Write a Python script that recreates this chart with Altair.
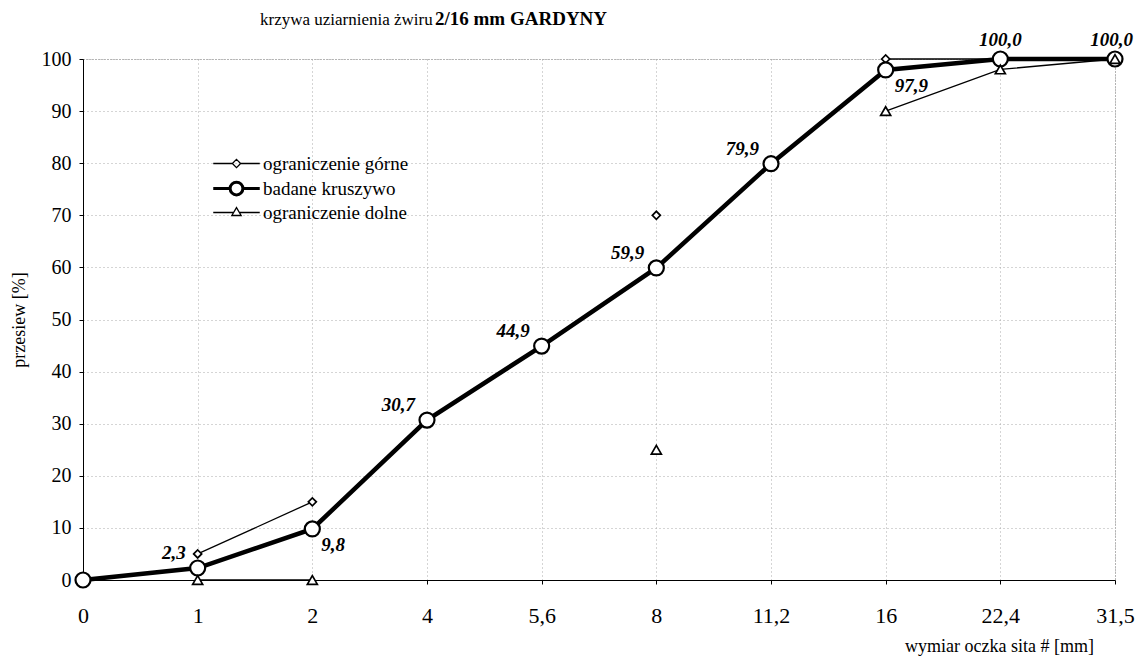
import altair as alt
import pandas as pd

# ---- data ----
SIEVES = ["0", "1", "2", "4", "5,6", "8", "11,2", "16", "22,4", "31,5"]
SERIES = ["ograniczenie górne", "badane kruszywo", "ograniczenie dolne"]
UPPER = [None, 5, 15, None, None, 70, None, 100, 100, 100]
TESTED = [0, 2.3, 9.8, 30.7, 44.9, 59.9, 79.9, 97.9, 100.0, 100.0]
LOWER = [None, 0, 0, None, None, 25, None, 90, 98, 100]

TITLE_NORMAL = "krzywa uziarnienia żwiru"
TITLE_BOLD = "2/16 mm GARDYNY"
Y_TITLE = "przesiew [%]"
X_TITLE = "wymiar oczka sita # [mm]"

# label placement groups (indexes of TESTED)
LABEL_LEFT = [1, 3, 4, 5, 6]
LABEL_RIGHT = [2, 7]
LABEL_TOP = [8]
LABEL_TOP_EDGE = [9]

FONT = "Liberation Serif"

# ---- build long table ----
rows = []
for name, vals in [(SERIES[1], TESTED), (SERIES[0], UPPER), (SERIES[2], LOWER)]:
    seg = 0
    for i, v in enumerate(vals):
        if v is None:
            seg += 1
            continue
        rows.append({
            "idx": i,
            "sieve": SIEVES[i],
            "series": name,
            "value": v,
            "seg": f"{name}_{seg}",
            "label": f"{v:.1f}".replace(".", ","),
        })
df = pd.DataFrame(rows)

label_expr = "[" + ",".join(f"'{s}'" for s in SIEVES) + "][datum.value]"

x_enc = alt.X(
    "idx:Q",
    scale=alt.Scale(domain=[0, len(SIEVES) - 1], nice=False, zero=False),
    axis=alt.Axis(
        values=list(range(len(SIEVES))),
        labelExpr=label_expr, labelFlush=False,
        grid=True, gridColor="#aaa", gridDash=[1, 3],
        domainColor="black", tickColor="black", tickSize=4,
        labelFont=FONT, labelFontSize=22, labelColor="black", labelPadding=21,
        title=X_TITLE, titleFont=FONT, titleFontSize=18, titleFontWeight="normal",
        titleColor="black", titleX=916, titleY=71, titleAlign="center",
        titleBaseline="alphabetic",
    ),
)
y_enc = alt.Y(
    "value:Q",
    scale=alt.Scale(domain=[0, 100], nice=False),
    axis=alt.Axis(
        values=list(range(0, 101, 10)),
        grid=True, gridColor="#aaa", gridDash=[1, 3],
        domainColor="black", tickColor="black", tickSize=4,
        labelFont=FONT, labelFontSize=20, labelColor="black", labelPadding=8,
        title=Y_TITLE, titleFont=FONT, titleFontSize=18, titleFontWeight="normal",
        titleColor="black", titlePadding=13,
    ),
)

base = alt.Chart(df)


def sel(name):
    return base.transform_filter(alt.datum.series == name)


# lines (thin bounds first, thick tested curve on top)
line_up = sel(SERIES[0]).mark_line(color="black", strokeWidth=1.3).encode(
    x=x_enc, y=y_enc, detail="seg:N", order="idx:Q")
line_lo = sel(SERIES[2]).mark_line(color="black", strokeWidth=1.3).encode(
    x=x_enc, y=y_enc, detail="seg:N", order="idx:Q")
line_te = sel(SERIES[1]).mark_line(color="black", strokeWidth=4.5).encode(
    x=x_enc, y=y_enc, detail="seg:N", order="idx:Q")

pt_te = sel(SERIES[1]).mark_point(
    shape="circle", size=225, filled=False, fill="white", fillOpacity=1,
    stroke="black", strokeWidth=2.2, opacity=1).encode(x=x_enc, y=y_enc)
pt_up = sel(SERIES[0]).mark_point(
    shape="diamond", size=64, filled=False, fill="white", fillOpacity=1,
    stroke="black", strokeWidth=1.7, opacity=1).encode(x=x_enc, y=y_enc)
pt_lo = sel(SERIES[2]).mark_point(
    shape="triangle-up", size=100, filled=False, fill="white", fillOpacity=1,
    stroke="black", strokeWidth=1.7, opacity=1).encode(x=x_enc, y=y_enc)

# legend only (no marks drawn): symbols = line with marker
P_DIAMOND = "M-3.1,0H-0.55M0.55,0H3.1M0,-0.55L0.55,0L0,0.55L-0.55,0Z"
P_CIRCLE = "M-3.1,0H-0.85M0.85,0H3.1M-0.85,0A0.85,0.85 0 1,0 0.85,0A0.85,0.85 0 1,0 -0.85,0Z"
P_TRIANGLE = "M-3.1,0H-0.4M0.4,0H3.1M0,-0.65L0.62,0.4L-0.62,0.4Z"

legend_opts = dict(
    title=None, orient="none", legendX=144, legendY=95,
    padding=0, rowPadding=2, labelOffset=17,
    labelFont=FONT, labelFontSize=19, labelColor="black",
    labelLimit=300, symbolSize=225,
    symbolFillColor="white", symbolStrokeColor="black", symbolOpacity=1,
)
legend_layer = base.transform_filter("false").mark_point(
    filled=False, color="black", opacity=1
).encode(
    x=x_enc, y=y_enc,
    shape=alt.Shape(
        "series:N", sort=SERIES,
        scale=alt.Scale(domain=SERIES, range=[P_DIAMOND, P_CIRCLE, P_TRIANGLE]),
        legend=alt.Legend(**legend_opts),
    ),
    strokeWidth=alt.StrokeWidth(
        "series:N", sort=SERIES,
        scale=alt.Scale(type="ordinal", domain=SERIES, range=[1.3, 3.0, 1.3]),
        legend=alt.Legend(**legend_opts),
    ),
)

lab_style = dict(font=FONT, fontSize=19, fontWeight="bold", fontStyle="italic",
                 color="black", baseline="middle")
tested = sel(SERIES[1])
lab_left = tested.transform_filter(
    alt.FieldOneOfPredicate(field="idx", oneOf=LABEL_LEFT)
).mark_text(align="right", dx=-12, dy=-15, **lab_style).encode(x=x_enc, y=y_enc, text="label:N")
lab_right = tested.transform_filter(
    alt.FieldOneOfPredicate(field="idx", oneOf=LABEL_RIGHT)
).mark_text(align="left", dx=9, dy=16, **lab_style).encode(x=x_enc, y=y_enc, text="label:N")
lab_top = tested.transform_filter(
    alt.FieldOneOfPredicate(field="idx", oneOf=LABEL_TOP)
).mark_text(align="center", dy=-19, **lab_style).encode(x=x_enc, y=y_enc, text="label:N")
lab_top_edge = tested.transform_filter(
    alt.FieldOneOfPredicate(field="idx", oneOf=LABEL_TOP_EDGE)
).mark_text(align="right", dx=18, dy=-19, **lab_style).encode(x=x_enc, y=y_enc, text="label:N")

t1 = alt.Chart(pd.DataFrame({"t": [TITLE_NORMAL]})).mark_text(
    font=FONT, fontSize=17, color="black", align="left", baseline="alphabetic"
).encode(x=alt.value(177), y=alt.value(-34), text="t:N")
t2 = alt.Chart(pd.DataFrame({"t": [TITLE_BOLD]})).mark_text(
    font=FONT, fontSize=19, fontWeight="bold", color="black", align="left", baseline="alphabetic"
).encode(x=alt.value(352), y=alt.value(-34), text="t:N")

chart = alt.layer(
    line_up, line_lo, line_te, pt_up, pt_te, pt_lo,
    lab_left, lab_right, lab_top, lab_top_edge, t1, t2, legend_layer,
).properties(
    width=1032, height=521,
    autosize=alt.AutoSizeParams(type="none"),
    padding={"left": 75, "top": 51, "right": 20, "bottom": 76},
    background="white",
).configure_view(stroke="#777", strokeDash=[1, 2])

chart.save("out.html", embed_options={"renderer": "svg", "actions": False})
